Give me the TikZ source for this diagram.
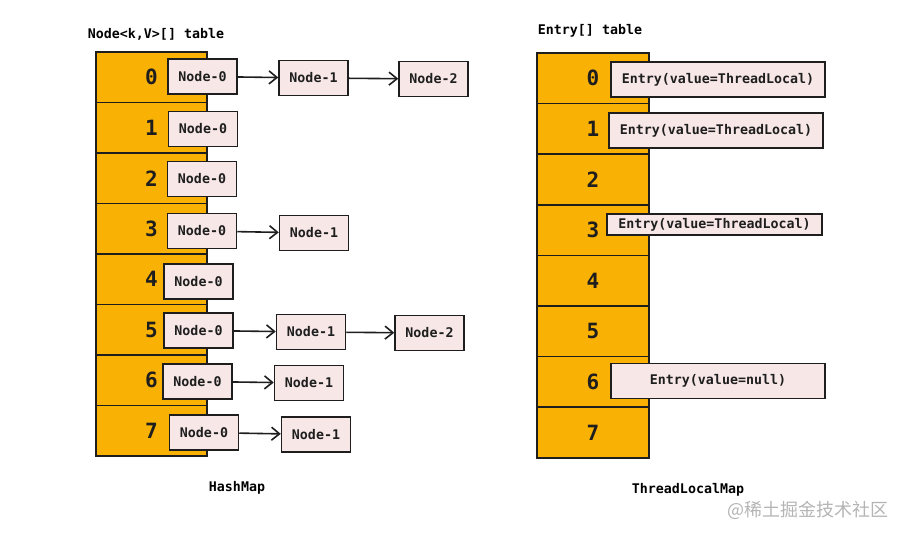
\documentclass[tikz,border=0pt]{standalone}
\usepackage{fontspec}
\setmainfont{DejaVu Sans Mono}
\newfontfamily\cjkfont{Noto Sans CJK SC}
\usetikzlibrary{arrows.meta}
\definecolor{cellorange}{HTML}{F9B104}
\definecolor{boxpink}{HTML}{F7E7E7}
\definecolor{ink}{HTML}{1E1E1E}
\definecolor{wmgrey}{HTML}{B4B4B4}
\tikzset{
  cell/.style={draw=ink, fill=cellorange, line width=1.5pt, minimum width=111pt, minimum height=50.5pt, inner sep=0pt, font=\fontsize{21}{23}\selectfont\bfseries, text=ink},
  rcell/.style={cell, minimum width=112pt},
  hbox/.style={draw=ink, fill=boxpink, line width=1.5pt, minimum width=69pt, minimum height=35pt, inner sep=0pt, font=\fontsize{13.3}{15}\selectfont\bfseries, text=ink},
  ebox/.style={hbox, minimum width=214pt},
  lbl/.style={font=\fontsize{13.3}{15}\selectfont\bfseries, text=black, inner sep=0pt},
  link/.style={draw=ink, line width=1.6pt, -{Straight Barb[length=8pt,width=13pt,line width=1.6pt]}}
}
\begin{document}
\begin{tikzpicture}[x=1pt,y=-1pt]
\useasboundingbox (0,0) rectangle (905,537);
% titles
\node[lbl] (t1) at (156,34) {Node<k,V>[] table};
\node[lbl] (t2) at (590,31) {Entry[] table};
% left column cells
\foreach \i in {0,...,7}{
  \node[cell] (L\i) at (151.5,{52+50.5*(\i+0.5)}) {\i};
}
% right column cells
\foreach \i in {0,...,7}{
  \node[rcell] (R\i) at (593,{53+50.6*(\i+0.5)}) {\i};
}
% Node-0 boxes
\node[hbox] (a0) at (202.5,76.5) {Node-0};
\node[hbox] (a1) at (203,129) {Node-0};
\node[hbox] (a2) at (202,179) {Node-0};
\node[hbox] (a3) at (202,231) {Node-0};
\node[hbox] (a4) at (198.5,281.5) {Node-0};
\node[hbox] (a5) at (198.5,330.5) {Node-0};
\node[hbox] (a6) at (197.5,381.5) {Node-0};
\node[hbox] (a7) at (204,432.5) {Node-0};
% Node-1 / Node-2 boxes
\node[hbox] (b0) at (313.5,78) {Node-1};
\node[hbox] (c0) at (433.5,79) {Node-2};
\node[hbox] (b3) at (314,233) {Node-1};
\node[hbox] (b5) at (311,332) {Node-1};
\node[hbox] (c5) at (429.5,333) {Node-2};
\node[hbox] (b6) at (309,383) {Node-1};
\node[hbox] (b7) at (316,434.5) {Node-1};
% arrows
\draw[link] (a0) -- (b0);
\draw[link] (b0) -- (c0);
\draw[link] (a3) -- (b3);
\draw[link] (a5) -- (b5);
\draw[link] (b5) -- (c5);
\draw[link] (a6) -- (b6);
\draw[link] (a7) -- (b7);
% entries
\node[ebox] (e0) at (718,79.5) {Entry(value=ThreadLocal)};
\node[ebox] (e1) at (716,130.5) {Entry(value=ThreadLocal)};
\node[ebox, minimum width=215pt, minimum height=21pt] (e3) at (714.5,224.5) {Entry(value=ThreadLocal)};
\node[ebox] (e6) at (718,381) {Entry(value=null)};
% captions
\node[lbl] (cap1) at (237,488) {HashMap};
\node[lbl] (cap2) at (688,490) {ThreadLocalMap};
\node[font=\cjkfont\fontsize{18}{20}\selectfont, text=wmgrey, inner sep=0pt] (wm) at (808,510) {@稀土掘金技术社区};
\end{tikzpicture}
\end{document}
